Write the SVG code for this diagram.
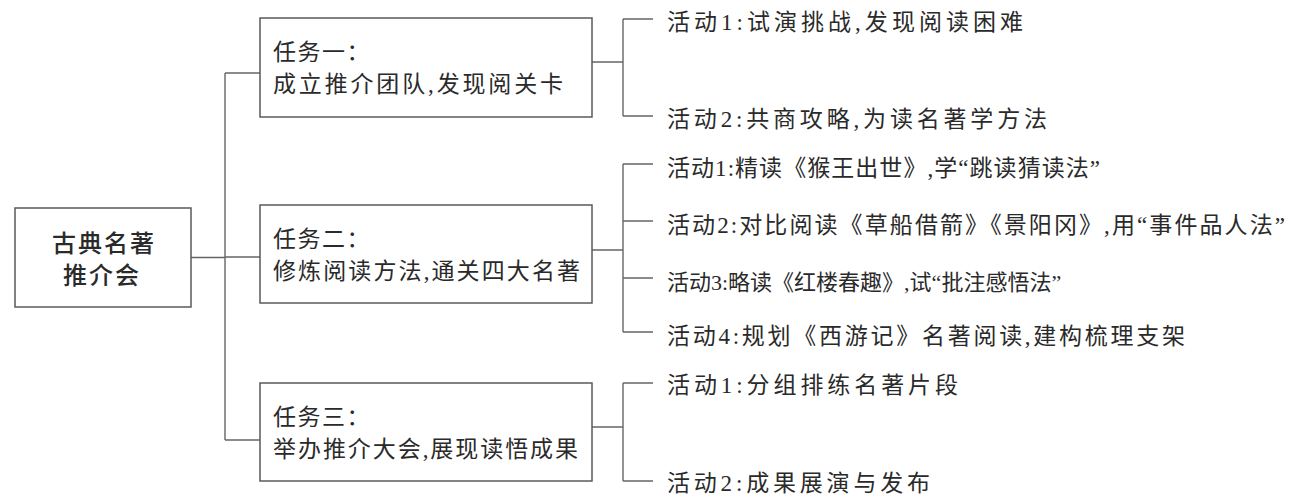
<svg xmlns="http://www.w3.org/2000/svg" width="1293" height="498" viewBox="0 0 1293 498">
<style>
.box{fill:#fff;stroke:#5a5a5a;stroke-width:1.5}
.ln{fill:none;stroke:#666;stroke-width:1.4}
.root{font-family:"Noto Sans CJK SC","Noto Sans",sans-serif;font-size:24px;font-weight:500;fill:#2a2a2a}
.task{font-family:"Liberation Serif","Noto Sans CJK SC",serif;font-size:23px;fill:#2a2a2a}
.act{font-family:"Liberation Serif","Noto Sans CJK SC",serif;font-size:23px;fill:#2a2a2a}
</style>
<rect width="1293" height="498" fill="#fff"/>
<g id="connectors">
<path class="ln" d="M191 257.5H225M225 73V440M225 73H260M225 257H260M225 440H260"/>
<path class="ln" d="M592 62H623M623 19V116M623 19H653M623 116H653"/>
<path class="ln" d="M592 250H623M623 164V332M623 164H653M623 221H653M623 278H653M623 332H653"/>
<path class="ln" d="M592 427H623M623 383V481M623 383H653M623 481H653"/>
</g>
<g id="root">
<rect class="box" x="15" y="208" width="176" height="99"/>
<text class="root" x="52" y="252" textLength="102" lengthAdjust="spacing">古典名著</text>
<text class="root" x="63" y="284" textLength="76" lengthAdjust="spacing">推介会</text>
</g>
<g id="task1">
<rect class="box" x="260" y="18" width="332" height="99"/>
<text class="task" x="273" y="60" letter-spacing="1.5">任务一：</text>
<text class="task" x="273" y="92" textLength="290" lengthAdjust="spacing">成立推介团队,发现阅关卡</text>
</g>
<g id="task2">
<rect class="box" x="260" y="205" width="332" height="98"/>
<text class="task" x="273" y="247" letter-spacing="1.5">任务二：</text>
<text class="task" x="273" y="279" textLength="307" lengthAdjust="spacing">修炼阅读方法,通关四大名著</text>
</g>
<g id="task3">
<rect class="box" x="260" y="383" width="332" height="98"/>
<text class="task" x="273" y="425" letter-spacing="1.5">任务三：</text>
<text class="task" x="273" y="457" textLength="305" lengthAdjust="spacing">举办推介大会,展现读悟成果</text>
</g>
<g id="t1a1"><text class="act" x="667" y="30" textLength="356" lengthAdjust="spacing">活动1:试演挑战,发现阅读困难</text></g>
<g id="t1a2"><text class="act" x="667" y="127" textLength="380" lengthAdjust="spacing">活动2:共商攻略,为读名著学方法</text></g>
<g id="t2a1"><text class="act" x="667" y="176" textLength="433" lengthAdjust="spacing">活动1:精读《猴王出世》,学“跳读猜读法”</text></g>
<g id="t2a2"><text class="act" x="667" y="233" textLength="618" lengthAdjust="spacing">活动2:对比阅读《草船借箭》《景阳冈》,用“事件品人法”</text></g>
<g id="t2a3"><text class="act" x="667" y="290" style="font-size:22px">活动3:略读《红楼春趣》,试“批注感悟法”</text></g>
<g id="t2a4"><text class="act" x="667" y="344" textLength="518" lengthAdjust="spacing">活动4:规划《西游记》名著阅读,建构梳理支架</text></g>
<g id="t3a1"><text class="act" x="667" y="393" textLength="291" lengthAdjust="spacing">活动1:分组排练名著片段</text></g>
<g id="t3a2"><text class="act" x="667" y="491" textLength="263" lengthAdjust="spacing">活动2:成果展演与发布</text></g>
</svg>
